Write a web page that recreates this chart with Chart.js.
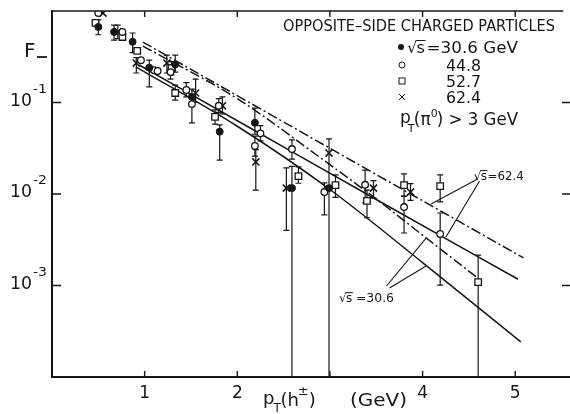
<!DOCTYPE html>
<html><head><meta charset="utf-8">
<script src="https://cdn.jsdelivr.net/npm/chart.js@4"></script>
<style>html,body{margin:0;padding:0;background:#fff}canvas{display:block}</style>
</head><body>
<canvas id="c" width="570" height="414"></canvas>
<script>
// ---- axis ranges & ticks ----
const YMIN = 1e-4, YMAX = 1, XMIN = 0, XMAX = 5.52;
const xTicks = [1, 2, 3, 4, 5];
const xTickLabels = ['1', '2', '', '4', '5'];
const yTicks = [1e-1, 1e-2, 1e-3];
const yTickExps = ['-1', '-2', '-3'];

// ---- data: sqrt(s)=30.6 (filled circles) ----
const s30X  = [0.50, 0.67, 0.87, 1.05, 1.33, 1.51, 1.81, 2.19, 2.59, 2.99];
const s30Y  = [0.67, 0.59, 0.46, 0.24, 0.26, 0.115, 0.048, 0.060, 0.0116, 0.0116];
const s30Lo = [0.55, 0.48, 0.35, 0.148, 0.215, 0.095, 0.0235, 0.045, 0.0001, null];
const s30Hi = [0.80, 0.70, 0.575, 0.29, 0.33, 0.14, 0.057, 0.087, 0.020, null];

// ---- sqrt(s)=44.8 (open circles) ----
const s44X  = [0.50, 0.76, 0.96, 1.10, 1.14, 1.28, 1.45, 1.51, 1.80, 2.25, 2.19, 2.59, 2.94, 3.38, 3.80, 4.19];
const s44Y  = [0.95, 0.59, 0.29, 0.226, 0.221, 0.215, 0.137, 0.096, 0.092, 0.046, 0.0335, 0.031, 0.0105, 0.0126, 0.0072, 0.00366];
const s44Lo = [null, null, null, null, null, 0.18, 0.115, 0.060, 0.078, 0.038, 0.026, 0.024, 0.0059, 0.0080, 0.00375, 0.00101];
const s44Hi = [null, null, null, null, null, 0.26, 0.165, 0.120, 0.110, 0.056, 0.043, 0.039, 0.0132, 0.0182, 0.0095, 0.0062];

// ---- sqrt(s)=52.7 (open squares) ----
const s52X  = [0.47, 0.76, 0.92, 1.29, 1.33, 1.76, 2.66, 3.06, 3.40, 3.80, 4.19, 4.60];
const s52Y  = [0.74, 0.52, 0.366, 0.238, 0.127, 0.0695, 0.0157, 0.0125, 0.0084, 0.0125, 0.0122, 0.00109];
const s52Lo = [null, null, null, 0.20, 0.106, 0.058, 0.0131, 0.0092, 0.0055, 0.0094, 0.0082, 0.0001];
const s52Hi = [null, null, null, 0.28, 0.155, 0.083, 0.0198, 0.0162, 0.011, 0.0166, 0.0162, 0.00215];

// ---- sqrt(s)=62.4 (crosses) ----
const s62X  = [0.55, 0.71, 0.91, 1.24, 1.55, 1.84, 2.20, 2.53, 2.99, 3.47, 3.87];
const s62Y  = [0.95, 0.59, 0.27, 0.27, 0.127, 0.092, 0.0224, 0.0116, 0.028, 0.0116, 0.0105];
const s62Lo = [null, 0.50, 0.21, 0.21, 0.10, 0.075, 0.011, 0.0040, 0.0001, 0.009, 0.0085];
const s62Hi = [null, 0.70, 0.31, 0.33, 0.18, 0.115, 0.0305, 0.0193, 0.040, 0.014, 0.013];

// ---- curves ----
const dd62X = [0.98, 3.00, 5.09];
const dd62Y = [0.458, 0.0316, 0.0020];
const dd30X = [0.98, 2.00, 3.00, 3.43, 4.00, 4.58];
const dd30Y = [0.414, 0.110, 0.0209, 0.0100, 0.00355, 0.00124];
const sl62X = [0.94, 2.12, 3.51, 5.03];
const sl62Y = [0.257, 0.054, 0.0086, 0.00117];
const sl30X = [0.91, 2.00, 3.00, 4.00, 5.06];
const sl30Y = [0.244, 0.0550, 0.0112, 0.00178, 0.000242];

// ---- annotation anchors (data units) ----
const lab62 = {x: 4.551, y: 0.01614};
const lab30 = {x: 3.098, y: 0.000748};
const ptr62 = [[4.594, 0.01459, 4.092, 0.00778], [4.615, 0.01387, 4.252, 0.00339]];
const ptr30 = [[3.611, 0.000988, 4.038, 0.00330], [3.643, 0.000939, 4.038, 0.00163]];

const INK = '#161616';
const FONT = 'DejaVu Sans';
const mk = (xs, ys) => xs.map((v, i) => ({x: v, y: ys[i]}));
const SERIES = [
  {x: s30X, lo: s30Lo, hi: s30Hi},
  {x: s44X, lo: s44Lo, hi: s44Hi},
  {x: s52X, lo: s52Lo, hi: s52Hi},
  {x: s62X, lo: s62Lo, hi: s62Hi}
];

function txt(ctx, s, x, y, size, align, targetW) {
  ctx.font = size + 'px "' + FONT + '"';
  ctx.textAlign = 'left';
  ctx.textBaseline = 'alphabetic';
  const w = ctx.measureText(s).width;
  let sx = 1;
  if (targetW) sx = targetW / w;
  const ww = w * sx;
  let x0 = x;
  if (align === 'center') x0 = x - ww / 2;
  else if (align === 'right') x0 = x - ww;
  ctx.save();
  ctx.translate(x0, y);
  ctx.scale(sx, 1);
  ctx.fillText(s, 0, 0);
  ctx.restore();
  return ww;
}
function rootS(ctx, x, base, size) {
  ctx.font = size + 'px "' + FONT + '"';
  const w1 = ctx.measureText('\u221A').width;
  txt(ctx, '\u221A', x, base, size);
  txt(ctx, 's', x + w1 - size * 0.05, base, size);
  const w2 = ctx.measureText('s').width;
  ctx.beginPath();
  const oy = base - size * 0.78;
  ctx.moveTo(x + w1 - size * 0.08, oy);
  ctx.lineTo(x + w1 + w2, oy);
  ctx.lineWidth = 1;
  ctx.stroke();
  return w1 + w2;
}

const decor = {
  id: 'decor',
  beforeDatasetsDraw(chart) {
    const {ctx, scales: {x, y}} = chart;
    ctx.save();
    ctx.strokeStyle = INK;
    ctx.lineWidth = 1.2;
    SERIES.forEach(s => {
      s.x.forEach((xv, i) => {
        const lo = s.lo[i], hi = s.hi[i];
        if (lo == null || hi == null) return;
        const px = x.getPixelForValue(xv);
        const p1 = y.getPixelForValue(lo), p2 = y.getPixelForValue(hi);
        ctx.beginPath();
        ctx.moveTo(px, p1); ctx.lineTo(px, p2);
        if (lo > YMIN) { ctx.moveTo(px - 3, p1); ctx.lineTo(px + 3, p1); }
        ctx.moveTo(px - 3, p2); ctx.lineTo(px + 3, p2);
        ctx.stroke();
      });
    });
    ctx.restore();
  },
  afterDraw(chart) {
    const {ctx, chartArea: a, scales: {x, y}} = chart;
    ctx.save();
    ctx.fillStyle = INK; ctx.strokeStyle = INK;
    // frame
    ctx.lineWidth = 2;
    ctx.beginPath();
    ctx.moveTo(a.left, a.top - 1); ctx.lineTo(a.left, a.bottom + 1);
    ctx.moveTo(a.left - 1, a.bottom); ctx.lineTo(570, a.bottom);
    ctx.stroke();
    ctx.lineWidth = 1.6;
    ctx.beginPath();
    ctx.moveTo(a.left, a.top); ctx.lineTo(a.right, a.top);
    ctx.stroke();
    // ticks
    ctx.lineWidth = 1.4;
    ctx.beginPath();
    xTicks.forEach(v => {
      const px = x.getPixelForValue(v);
      ctx.moveTo(px, a.bottom); ctx.lineTo(px, a.bottom - 6);
      ctx.moveTo(px, a.top); ctx.lineTo(px, a.top + 6);
    });
    yTicks.forEach(v => {
      const py = y.getPixelForValue(v);
      ctx.moveTo(a.left, py); ctx.lineTo(a.left + 9, py);
      ctx.moveTo(570, py); ctx.lineTo(562, py);
    });
    ctx.stroke();
    // x tick labels
    xTicks.forEach((v, i) => {
      if (!xTickLabels[i]) return;
      txt(ctx, xTickLabels[i], x.getPixelForValue(v), a.bottom + 21, 17, 'center');
    });
    // y tick labels 10^n
    yTicks.forEach((v, i) => {
      const py = y.getPixelForValue(v);
      txt(ctx, '10', 10, py + 3, 18, 'left', 22);
      txt(ctx, yTickExps[i], 33, py - 10, 13, 'left', 14);
    });
    // F_ label
    txt(ctx, 'F', 24, 57, 20, 'left');
    ctx.lineWidth = 1.8;
    ctx.beginPath(); ctx.moveTo(37, 57); ctx.lineTo(47, 57); ctx.stroke();
    // x title
    const xb = 406;
    let cx = 263;
    cx += txt(ctx, 'p', cx, xb - 2, 18);
    txt(ctx, 'T', cx - 1, xb + 6, 12);
    cx += 6;
    cx += txt(ctx, '(h', cx, xb, 18);
    txt(ctx, '\u00B1', cx - 1, xb - 11, 13);
    cx += 10;
    txt(ctx, ')', cx, xb, 18);
    txt(ctx, '(GeV)', 350, xb, 18, 'left', 57);
    // legend
    txt(ctx, 'OPPOSITE\u2013SIDE CHARGED PARTICLES', 283, 31, 15, 'left', 272);
    ctx.lineWidth = 1.2;
    ctx.beginPath(); ctx.arc(401, 47, 3, 0, Math.PI * 2); ctx.fill();
    const rw = rootS(ctx, 407, 53, 16);
    txt(ctx, '=30.6 GeV', 407 + rw + 1, 53, 16, 'left', 518 - (408 + rw));
    ctx.beginPath(); ctx.arc(402, 65, 3, 0, Math.PI * 2); ctx.stroke();
    txt(ctx, '44.8', 446, 71, 16, 'left', 35);
    ctx.strokeRect(399, 78, 6, 6);
    txt(ctx, '52.7', 446, 87, 16, 'left', 35);
    ctx.beginPath();
    ctx.moveTo(399, 94); ctx.lineTo(405, 100); ctx.moveTo(405, 94); ctx.lineTo(399, 100);
    ctx.stroke();
    txt(ctx, '62.4', 446, 103, 16, 'left', 35);
    // pT(pi0) > 3 GeV
    let lx = 400;
    lx += txt(ctx, 'p', lx, 123, 17);
    txt(ctx, 'T', lx - 3, 132, 11);
    lx += 3;
    lx += txt(ctx, '(\u03C0', lx, 125, 17);
    txt(ctx, '0', lx, 117, 11);
    lx += 6;
    txt(ctx, ') > 3 GeV', lx, 125, 17, 'left', 518 - lx);
    // curve labels
    const l62x = x.getPixelForValue(lab62.x), l62y = y.getPixelForValue(lab62.y);
    const r1 = rootS(ctx, l62x, l62y + 5, 12);
    txt(ctx, '=62.4', l62x + r1, l62y + 5, 12, 'left', 50 - r1);
    const l30x = x.getPixelForValue(lab30.x), l30y = y.getPixelForValue(lab30.y);
    const r2 = rootS(ctx, l30x, l30y + 5, 12);
    txt(ctx, '=30.6', l30x + r2 + 3, l30y + 5, 12, 'left', 55 - r2 - 3);
    ctx.lineWidth = 1.1;
    ctx.beginPath();
    ptr62.concat(ptr30).forEach(p => {
      ctx.moveTo(x.getPixelForValue(p[0]), y.getPixelForValue(p[1]));
      ctx.lineTo(x.getPixelForValue(p[2]), y.getPixelForValue(p[3]));
    });
    ctx.stroke();
    ctx.restore();
  }
};

const curve = (xs, ys, dash) => ({
  data: mk(xs, ys), showLine: true, borderColor: INK, borderWidth: 1.5,
  pointRadius: 0, fill: false, borderDash: dash || [], cubicInterpolationMode: 'monotone'
});

new Chart(document.getElementById('c'), {
  type: 'scatter',
  data: {
    datasets: [
      {data: mk(s30X, s30Y), pointStyle: 'circle', pointRadius: 3.5, backgroundColor: INK, borderColor: INK, borderWidth: 1},
      {data: mk(s44X, s44Y), pointStyle: 'circle', pointRadius: 3.3, backgroundColor: '#fff', borderColor: INK, borderWidth: 1.3},
      {data: mk(s52X, s52Y), pointStyle: 'rect', pointRadius: 4.6, backgroundColor: '#fff', borderColor: INK, borderWidth: 1.3},
      {data: mk(s62X, s62Y), pointStyle: 'crossRot', pointRadius: 5, backgroundColor: INK, borderColor: INK, borderWidth: 1.6},
      curve(dd62X, dd62Y, [10, 3, 2, 3]),
      curve(dd30X, dd30Y, [10, 3, 2, 3]),
      curve(sl62X, sl62Y),
      curve(sl30X, sl30Y)
    ]
  },
  options: {
    responsive: false, animation: false, devicePixelRatio: 1,
    layout: {padding: {left: 52, top: 11, right: 1, bottom: 37}},
    plugins: {legend: {display: false}, tooltip: {enabled: false}},
    events: [],
    scales: {
      x: {type: 'linear', min: XMIN, max: XMAX, display: false},
      y: {type: 'logarithmic', min: YMIN, max: YMAX, display: false}
    }
  },
  plugins: [decor]
});
</script>
</body></html>
